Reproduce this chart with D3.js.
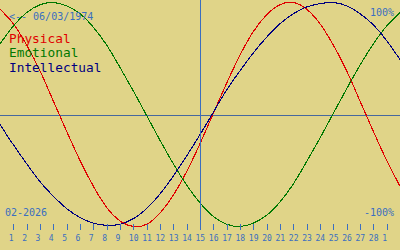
<!DOCTYPE html>
<html>
<head>
<meta charset="utf-8">
<script src="https://cdn.jsdelivr.net/npm/d3@7/dist/d3.min.js"></script>
<style>
  html, body { margin: 0; padding: 0; background: #e0d488; }
  svg { display: block; }
  text { font-family: "DejaVu Sans Mono", "Liberation Mono", monospace; }
</style>
</head>
<body>
<svg id="chart" width="400" height="250"></svg>
<script>
// day index 0..30 across the month (-1..1)
var days = d3.range(0, 31);
var physical = [0.94, 0.81, 0.62, 0.39, 0.12, -0.15, -0.41, -0.64, -0.83, -0.95, -1.00, -0.98, -0.88, -0.72, -0.51, -0.26, 0.01, 0.28, 0.53, 0.74, 0.89, 0.98, 1.00, 0.94, 0.81, 0.62, 0.39, 0.12, -0.15, -0.41, -0.64];
var emotional = [0.63, 0.79, 0.91, 0.98, 1.00, 0.97, 0.90, 0.78, 0.62, 0.42, 0.21, -0.01, -0.23, -0.44, -0.63, -0.79, -0.91, -0.98, -1.00, -0.97, -0.90, -0.78, -0.62, -0.42, -0.21, 0.01, 0.23, 0.44, 0.63, 0.79, 0.91];
var intellectual = [-0.09, -0.27, -0.44, -0.60, -0.73, -0.84, -0.92, -0.97, -0.99, -0.98, -0.93, -0.84, -0.71, -0.55, -0.37, -0.18, 0.02, 0.22, 0.39, 0.55, 0.69, 0.81, 0.90, 0.96, 0.99, 1.00, 0.97, 0.90, 0.80, 0.66, 0.49];

var seriesNames = ["Physical", "Emotional", "Intellectual"];
var seriesColors = ["#e00000", "#007800", "#000080"];
var tickDays = d3.range(1, 30);
var tickLabels = ["1","2","3","4","5","6","7","8","9","10","11","12","13","14","15","16","17","18","19","20","21","22","23","24","25","26","27","28","1"];
var today = 15;
var birthText = "<-- 06/03/1974";
var monthText = "02-2026";

var W = 400, H = 250;
var blue = "#3a6ec0";

var svg = d3.select("#chart");
svg.append("rect").attr("width", W).attr("height", H).attr("fill", "#e0d488");

var x = d3.scaleLinear().domain([0, 30]).range([0, W]);
var y = d3.scaleLinear().domain([-1, 1]).range([226.5, 2.5]);

// zero line
svg.append("line")
  .attr("x1", 0).attr("x2", W)
  .attr("y1", Math.floor(y(0)) + 1.5).attr("y2", Math.floor(y(0)) + 1.5)
  .attr("stroke", "#46689e").attr("stroke-width", 1);

// curves
var line = d3.line()
  .x(function(d, i) { return x(days[i]); })
  .y(function(d) { return y(d); })
  .curve(d3.curveNatural);

[physical, emotional, intellectual].forEach(function(s, i) {
  svg.append("path")
    .attr("d", line(s))
    .attr("fill", "none")
    .attr("stroke", seriesColors[i])
    .attr("stroke-width", 1.1)
    .attr("shape-rendering", "crispEdges");
});

// today marker
svg.append("line")
  .attr("x1", x(today) + 0.5).attr("x2", x(today) + 0.5)
  .attr("y1", 0).attr("y2", 230)
  .attr("stroke", blue).attr("stroke-width", 1);

// day axis
var axis = svg.append("g");
axis.selectAll("line.tick").data(tickDays).enter().append("line")
  .attr("class", "tick")
  .attr("x1", function(d) { return Math.round(x(d)) + 0.5; })
  .attr("x2", function(d) { return Math.round(x(d)) + 0.5; })
  .attr("y1", 224).attr("y2", 230)
  .attr("stroke", blue).attr("stroke-width", 1);
axis.selectAll("text").data(tickDays).enter().append("text")
  .attr("x", function(d) { return x(d) - 4.5; })
  .attr("y", 240.5)
  .attr("fill", blue)
  .attr("font-size", 8)
  .text(function(d, i) { return tickLabels[i]; });

// legend
seriesNames.forEach(function(n, i) {
  svg.append("text")
    .attr("x", 9).attr("y", 42.5 + i * 14.7)
    .attr("fill", seriesColors[i])
    .attr("font-size", 12.8)
    .text(n);
});

svg.append("text").attr("x", 9).attr("y", 20)
  .attr("fill", blue).attr("font-size", 10).text(birthText);
svg.append("text").attr("x", 5).attr("y", 215.5)
  .attr("fill", blue).attr("font-size", 10).text(monthText);
svg.append("text").attr("x", 394).attr("y", 15.5).attr("text-anchor", "end")
  .attr("fill", blue).attr("font-size", 10).text("100%");
svg.append("text").attr("x", 394).attr("y", 215.5).attr("text-anchor", "end")
  .attr("fill", blue).attr("font-size", 10).text("-100%");
</script>
</body>
</html>
